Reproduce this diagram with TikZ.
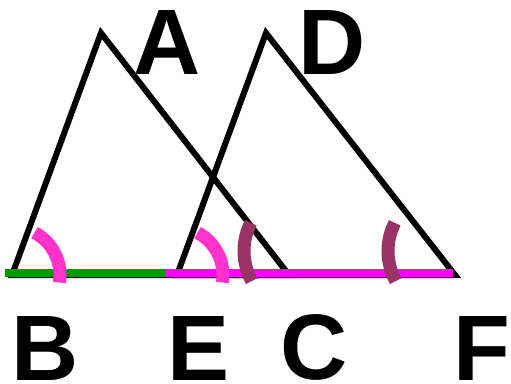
\documentclass[tikz,border=0pt]{standalone}
\usepackage{fontspec}
\setmainfont{Liberation Sans}
\definecolor{arcpink}{HTML}{FF33CC}
\definecolor{arcpurple}{HTML}{993366}
\definecolor{segmagenta}{HTML}{FF00FF}
\definecolor{seggreen}{HTML}{009900}
\begin{document}
\begin{tikzpicture}[x=1pt,y=1pt,
  side/.style={draw=black,line width=6pt},
  anglepink/.style={draw=arcpink,line width=13pt},
  anglepurple/.style={draw=arcpurple,line width=13pt},
  lbl/.style={inner sep=0pt,anchor=base,font=\fontsize{93}{93}\selectfont\bfseries}]
\useasboundingbox (0,0) rectangle (511,383);
% vertices
\coordinate (A) at (101,350);
\coordinate (B) at (12,108);
\coordinate (C) at (289,108);
\coordinate (D) at (266,350);
\coordinate (E) at (177,108);
\coordinate (F) at (455,108);
\coordinate (gs) at (5,110);
\coordinate (ge) at (166,110);
\coordinate (me) at (453,110);
% triangles
\draw[side] (B) -- (A) -- (C) -- cycle;
\draw[side] (E) -- (D) -- (F) -- cycle;
% coloured segments
\draw[draw=seggreen,line width=7pt] (gs) -- (ge);
\draw[draw=segmagenta,line width=7pt] (ge) -- (me);
% angle marks
\draw[anglepink] ([shift={(-9:48)}]12,108) arc[start angle=-9,end angle=62,radius=48];
\draw[anglepink] ([shift={(-9:48)}]175,108) arc[start angle=-9,end angle=62,radius=48];
\draw[anglepurple] ([shift={(153:62)}]306,132) arc[start angle=153,end angle=209,radius=62];
\draw[anglepurple] ([shift={(153:62)}]450,132) arc[start angle=153,end angle=209,radius=62];
% labels
\node[lbl] (lA) at (167.5,308) {A};
\node[lbl] (lD) at (332.5,308) {D};
\node[lbl] (lB) at (45,3) {B};
\node[lbl] (lE) at (198.5,3) {E};
\node[lbl] (lC) at (314,4) {C};
\node[lbl] (lF) at (481.5,3) {F};
\end{tikzpicture}
\end{document}
